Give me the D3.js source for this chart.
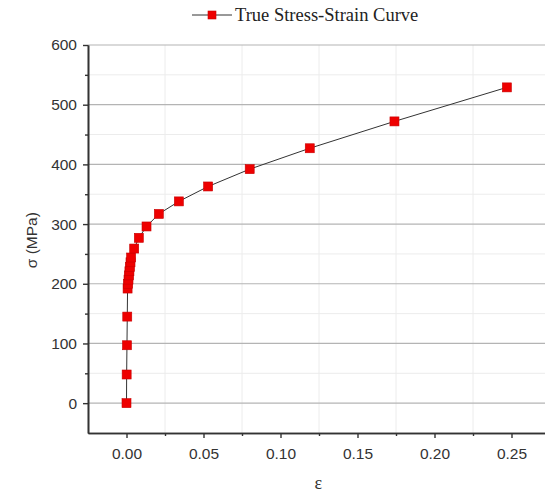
<!DOCTYPE html>
<html>
<head>
<meta charset="utf-8">
<script src="https://cdn.jsdelivr.net/npm/d3@7"></script>
<style>
  body { margin: 0; background: #fff; }
</style>
</head>
<body>
<div id="chart"></div>
<script>
// true strain / true stress
var strain = [0, 0.0001, 0.0003, 0.0005, 0.0007, 0.0010, 0.0013, 0.0016, 0.0019, 0.0022, 0.0026, 0.0030,
              0.005, 0.008, 0.013, 0.021, 0.034, 0.053, 0.080, 0.119, 0.174, 0.247]
var stress = [0, 48, 97, 145, 192, 200, 207, 214, 221, 228, 236, 244,
              259, 277, 296, 317, 338, 363, 392, 427, 472, 529]
var xTicks = [0, 0.05, 0.10, 0.15, 0.20, 0.25]
var yTicks = [0, 100, 200, 300, 400, 500, 600]
var seriesName = "True Stress-Strain Curve"

var W = 545, H = 493
var plotL = 88, plotR = 545, plotT = 45, plotB = 433

var svg = d3.select("#chart").append("svg")
  .attr("width", W).attr("height", H)

var x = d3.scaleLinear().domain([-0.025, -0.025 + (plotR - plotL) / 1540]).range([plotL, plotR])
var y = d3.scaleLinear().domain([-50, 600]).range([plotB, plotT])

var minorX = [0.025, 0.075, 0.125, 0.175, 0.225]
var minorY = [50, 150, 250, 350, 450, 550]

// minor vertical grid
svg.append("g").selectAll("line").data(minorX).join("line")
  .attr("x1", d => x(d)).attr("x2", d => x(d))
  .attr("y1", plotT).attr("y2", plotB)
  .attr("stroke", "#ececec").attr("stroke-width", 1)

// minor horizontal grid
svg.append("g").selectAll("line").data(minorY).join("line")
  .attr("x1", plotL).attr("x2", plotR)
  .attr("y1", d => y(d)).attr("y2", d => y(d))
  .attr("stroke", "#ececec").attr("stroke-width", 1)

// major horizontal grid
svg.append("g").selectAll("line").data(yTicks).join("line")
  .attr("x1", plotL).attr("x2", plotR)
  .attr("y1", d => y(d)).attr("y2", d => y(d))
  .attr("stroke", "#b4b4b4").attr("stroke-width", 1.2)

// axes
var xAxis = svg.append("g")
  .attr("transform", "translate(0," + plotB + ")")
  .call(d3.axisBottom(x).tickValues(xTicks).tickFormat(d3.format(".2f")).tickSize(5).tickSizeOuter(0))
var xMinor = svg.append("g")
  .attr("transform", "translate(0," + plotB + ")")
  .call(d3.axisBottom(x).tickValues(minorX).tickFormat("").tickSize(3).tickSizeOuter(0))
var yAxis = svg.append("g")
  .attr("transform", "translate(" + plotL + ",0)")
  .call(d3.axisLeft(y).tickValues(yTicks).tickSize(5).tickSizeOuter(0))
var yMinor = svg.append("g")
  .attr("transform", "translate(" + plotL + ",0)")
  .call(d3.axisLeft(y).tickValues(minorY).tickFormat("").tickSize(3).tickSizeOuter(0))

;[xAxis, xMinor, yAxis, yMinor].forEach(function(g) {
  g.select(".domain").attr("stroke", "#333").attr("stroke-width", 1.6)
  g.selectAll(".tick line").attr("stroke", "#333").attr("stroke-width", 1.4)
  g.selectAll("text").attr("fill", "#333")
    .style("font-family", "Liberation Sans, Arial, sans-serif").style("font-size", "15.5px")
})
xAxis.selectAll("text").attr("y", 10).attr("dy", "1em")
yAxis.selectAll("text").attr("x", -11)

// axis titles
svg.append("text")
  .attr("transform", "translate(37," + y(273) + ") rotate(-90)")
  .attr("text-anchor", "middle")
  .style("font-family", "Liberation Sans, Arial, sans-serif").style("font-size", "15.5px")
  .attr("fill", "#333")
  .text("σ (MPa)")
svg.append("text")
  .attr("x", x(0.1245)).attr("y", 489)
  .attr("text-anchor", "middle")
  .style("font-family", "Liberation Serif, Times New Roman, serif").style("font-size", "18px")
  .attr("fill", "#333")
  .text("ε")

// the curve
var pts = strain.map((s, i) => ({e: s, s: stress[i]}))
svg.append("path")
  .datum(pts)
  .attr("fill", "none")
  .attr("stroke", "#333")
  .attr("stroke-width", 1)
  .attr("d", d3.line().x(d => x(d.e)).y(d => y(d.s)))

svg.append("g").selectAll("rect").data(pts).join("rect")
  .attr("x", d => x(d.e) - 4.5).attr("y", d => y(d.s) - 4.5)
  .attr("width", 9).attr("height", 9)
  .attr("fill", "#ee0000").attr("stroke", "#c80000").attr("stroke-width", 0.6)

// legend
var lg = svg.append("g").attr("transform", "translate(192,15)")
lg.append("line").attr("x1", 0).attr("x2", 40).attr("y1", 0).attr("y2", 0)
  .attr("stroke", "#333").attr("stroke-width", 1)
lg.append("rect").attr("x", 16).attr("y", -4).attr("width", 8).attr("height", 8)
  .attr("fill", "#ee0000").attr("stroke", "#c80000").attr("stroke-width", 0.6)
lg.append("text").attr("x", 43).attr("y", 6)
  .style("font-family", "Liberation Serif, Times New Roman, serif").style("font-size", "18.5px")
  .attr("fill", "#222")
  .text(seriesName)
</script>
</body>
</html>
